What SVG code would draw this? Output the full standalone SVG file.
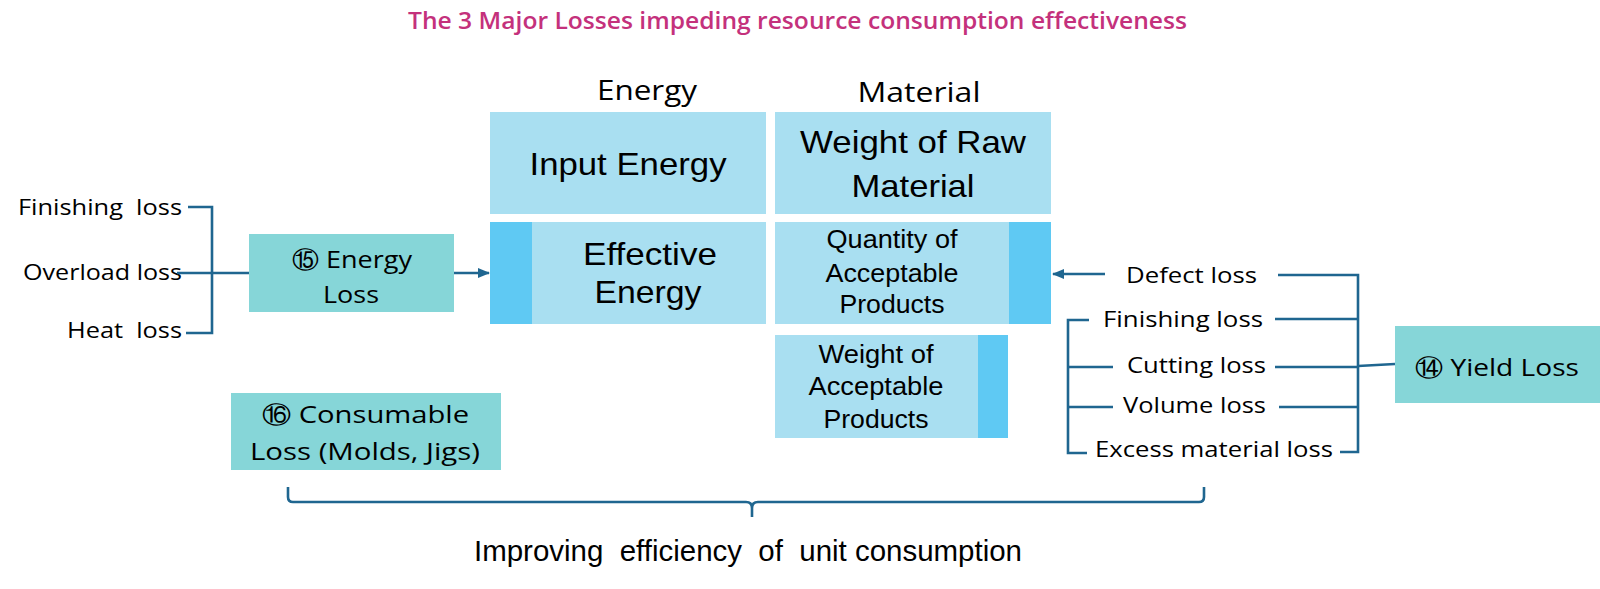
<svg xmlns="http://www.w3.org/2000/svg" width="1600" height="589" viewBox="0 0 1600 589">
<style>
.lt{fill:#A9DFF1}
.dk{fill:#5FC9F3}
.tl{fill:#86D6D8}
.big{font-family:"Liberation Sans",Arial,sans-serif;font-size:32px;fill:#000;text-anchor:middle}
.mid{font-family:"Liberation Sans",Arial,sans-serif;font-size:25px;fill:#000;text-anchor:middle}
.sm{font-family:"Open Sans","Noto Sans",sans-serif;font-size:22px;fill:#000}
.hd{font-family:"Open Sans","Noto Sans",sans-serif;font-size:28px;fill:#000;text-anchor:middle}
.bx{font-family:"Open Sans","Noto Sans","DejaVu Sans",sans-serif;font-size:24px;fill:#000}
.ln{fill:none;stroke:#1F6690;stroke-width:2.6}
</style>
<defs>
<marker id="ah" markerUnits="userSpaceOnUse" markerWidth="12" markerHeight="12" refX="11" refY="6" orient="auto">
<path d="M0 1 L12 6 L0 11 Z" fill="#1F6690"/>
</marker>
</defs>
<rect width="1600" height="589" fill="#fff"/>
<text x="408" y="29" font-family="Open Sans,Noto Sans,sans-serif" font-size="24" font-weight="600" fill="#C4317C" textLength="779" lengthAdjust="spacingAndGlyphs">The 3 Major Losses impeding resource consumption effectiveness</text>

<g id="hdr-energy"><text class="hd" x="647" y="100" textLength="100" lengthAdjust="spacingAndGlyphs">Energy</text></g>
<g id="hdr-material"><text class="hd" x="919" y="102" textLength="123" lengthAdjust="spacingAndGlyphs">Material</text></g>

<g id="input-energy">
<rect class="lt" x="490" y="112" width="276" height="102"/>
<text class="big" x="628" y="175" textLength="197" lengthAdjust="spacingAndGlyphs">Input Energy</text>
</g>
<g id="raw-material">
<rect class="lt" x="775" y="112" width="276" height="102"/>
<text class="big" x="913" y="153" textLength="226" lengthAdjust="spacingAndGlyphs">Weight of Raw</text>
<text class="big" x="913" y="197" textLength="123" lengthAdjust="spacingAndGlyphs">Material</text>
</g>
<g id="effective-energy">
<rect class="lt" x="490" y="222" width="276" height="102"/>
<rect class="dk" x="490" y="222" width="42" height="102"/>
<text class="big" x="650" y="265" textLength="134" lengthAdjust="spacingAndGlyphs">Effective</text>
<text class="big" x="648" y="303" textLength="107" lengthAdjust="spacingAndGlyphs">Energy</text>
</g>
<g id="quantity-acceptable">
<rect class="lt" x="775" y="222" width="276" height="102"/>
<rect class="dk" x="1009" y="222" width="42" height="102"/>
<text class="mid" x="892" y="248" textLength="131" lengthAdjust="spacingAndGlyphs">Quantity of</text>
<text class="mid" x="892" y="282" textLength="133" lengthAdjust="spacingAndGlyphs">Acceptable</text>
<text class="mid" x="892" y="313" textLength="105" lengthAdjust="spacingAndGlyphs">Products</text>
</g>
<g id="weight-acceptable">
<rect class="lt" x="775" y="335" width="233" height="103"/>
<rect class="dk" x="978" y="335" width="30" height="103"/>
<text class="mid" x="876" y="363" textLength="115" lengthAdjust="spacingAndGlyphs">Weight of</text>
<text class="mid" x="876" y="395" textLength="135" lengthAdjust="spacingAndGlyphs">Acceptable</text>
<text class="mid" x="876" y="428" textLength="105" lengthAdjust="spacingAndGlyphs">Products</text>
</g>

<g id="energy-loss">
<rect class="tl" x="249" y="234" width="205" height="78"/>
<text class="bx" x="292" y="268" textLength="120" lengthAdjust="spacingAndGlyphs">⑮ Energy</text>
<text class="bx" x="323" y="303" textLength="56" lengthAdjust="spacingAndGlyphs">Loss</text>
</g>
<g id="consumable-loss">
<rect class="tl" x="231" y="393" width="270" height="77"/>
<text class="bx" x="262" y="423" font-size="27" textLength="207" lengthAdjust="spacingAndGlyphs">⑯ Consumable</text>
<text class="bx" x="250" y="460" font-size="27" textLength="230" lengthAdjust="spacingAndGlyphs">Loss (Molds, Jigs)</text>
</g>
<g id="yield-loss">
<rect class="tl" x="1395" y="326" width="205" height="77"/>
<text class="bx" x="1415" y="376" font-size="27" textLength="164" lengthAdjust="spacingAndGlyphs">⑭ Yield Loss</text>
</g>

<g id="left-labels">
<text class="sm" x="182" y="215" text-anchor="end" xml:space="preserve" textLength="164" lengthAdjust="spacingAndGlyphs">Finishing  loss</text>
<text class="sm" x="182" y="280" text-anchor="end" textLength="159" lengthAdjust="spacingAndGlyphs">Overload loss</text>
<text class="sm" x="182" y="338" text-anchor="end" xml:space="preserve" textLength="115" lengthAdjust="spacingAndGlyphs">Heat  loss</text>
</g>
<g id="right-labels">
<text class="sm" x="1126" y="283" textLength="131" lengthAdjust="spacingAndGlyphs">Defect loss</text>
<text class="sm" x="1103" y="327" textLength="160" lengthAdjust="spacingAndGlyphs">Finishing loss</text>
<text class="sm" x="1127" y="373" textLength="139" lengthAdjust="spacingAndGlyphs">Cutting loss</text>
<text class="sm" x="1123" y="413" textLength="143" lengthAdjust="spacingAndGlyphs">Volume loss</text>
<text class="sm" x="1095" y="457" textLength="238" lengthAdjust="spacingAndGlyphs">Excess material loss</text>
</g>

<g id="connectors">
<path class="ln" d="M188 207 H212 V333 H186"/>
<path class="ln" d="M177 273 H249"/>
<path class="ln" d="M454 273 H489" marker-end="url(#ah)"/>
<path class="ln" d="M1105 274 H1053" marker-end="url(#ah)"/>
<path class="ln" d="M1278 275 H1358 V452 H1340"/>
<path class="ln" d="M1275 319 H1358"/>
<path class="ln" d="M1275 367 H1358"/>
<path class="ln" d="M1279 407 H1358"/>
<path class="ln" d="M1358 366 L1395 364"/>
<path class="ln" d="M1089 320 H1068 V453 H1087"/>
<path class="ln" d="M1068 367 H1113"/>
<path class="ln" d="M1068 407 H1113"/>
<path class="ln" d="M288 487 V497 Q288 502 293 502 H746 Q752 502 752 508 V517 M752 508 Q752 502 758 502 H1199 Q1204 502 1204 497 V487"/>
</g>

<text x="474" y="561" font-family="Liberation Sans,Arial,sans-serif" font-size="30" fill="#000" xml:space="preserve" textLength="548" lengthAdjust="spacingAndGlyphs">Improving  efficiency  of  unit consumption</text>
</svg>
